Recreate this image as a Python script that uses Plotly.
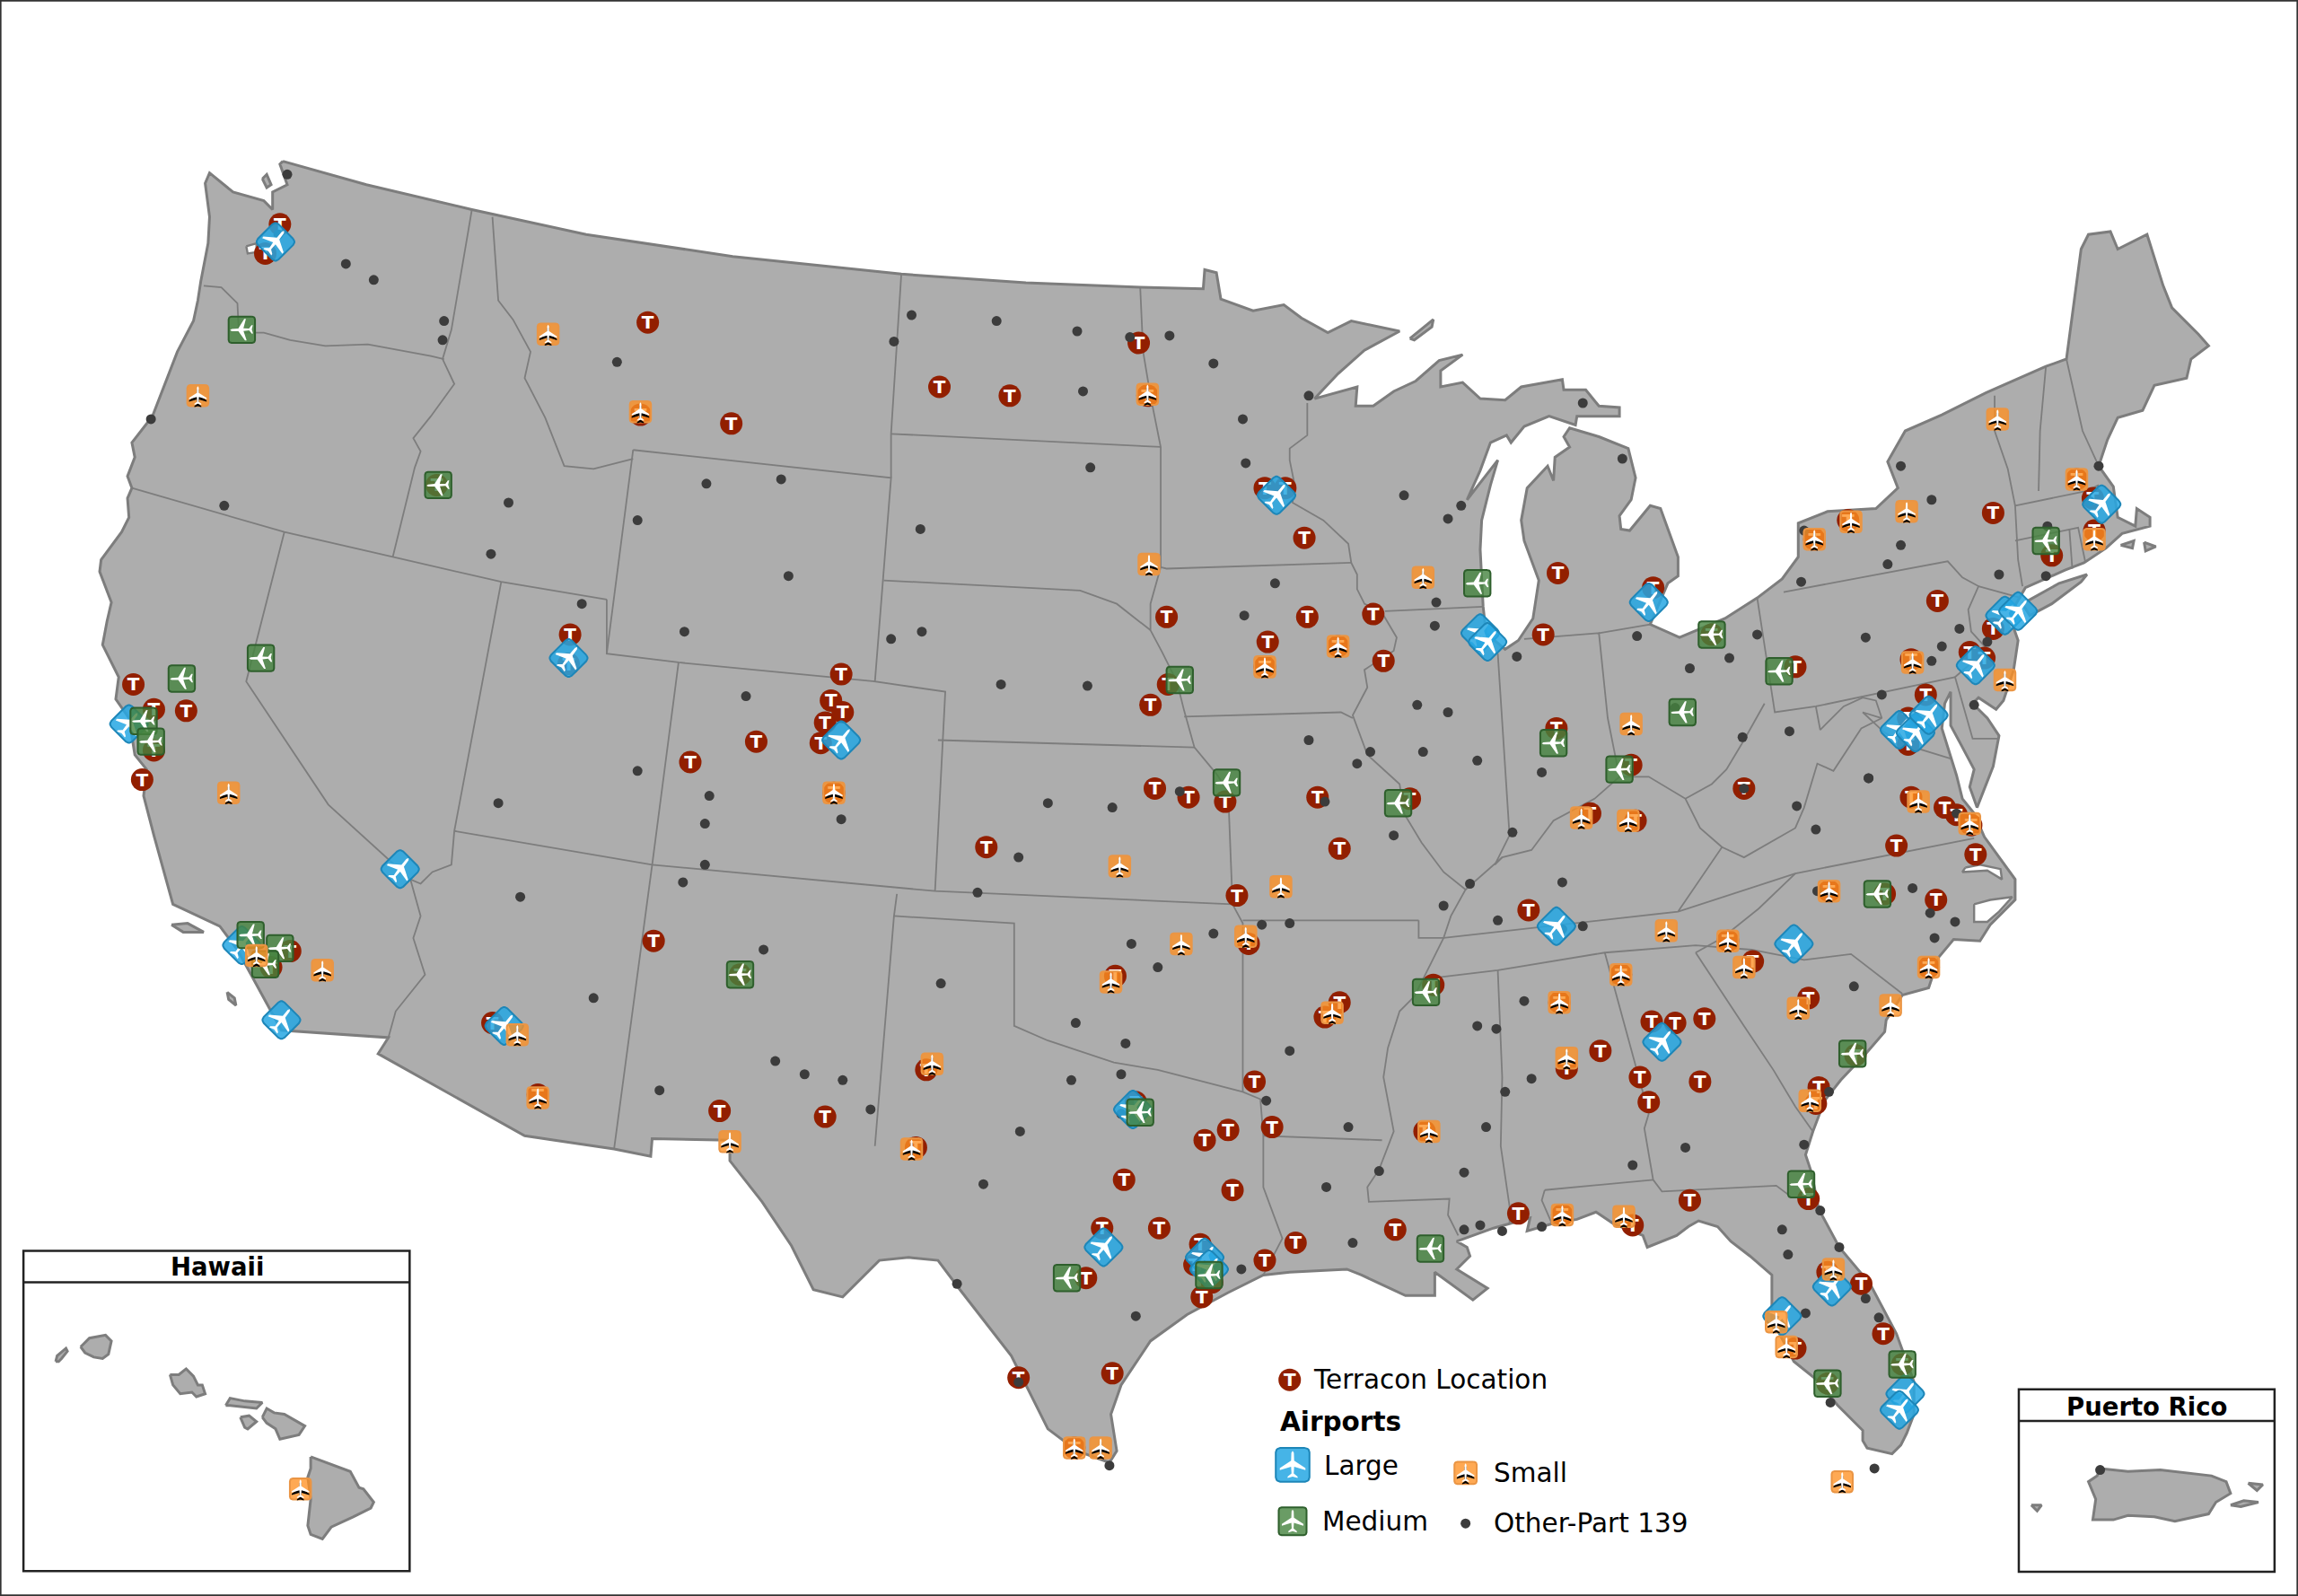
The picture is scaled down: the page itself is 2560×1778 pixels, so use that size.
import numpy as np
import plotly.graph_objects as go

# Map units: reference drawn on a 1568 x 1089 sheet, y pointing down
SHEET_W = 1568
SHEET_H = 1089

# Lower 48 coastline / national border, clockwise from the WA-BC corner
outline = [
    (193, 110), (250, 126), (322, 143), (400, 160), (500, 175), (615, 187), (700, 193), (778, 196), (821, 197),
    (822, 184), (830, 186), (833, 204), (855, 212), (876, 208), (888, 217), (906, 227), (922, 219), (941, 223),
    (955, 226), (931, 239), (913, 255), (897, 272), (926, 264), (925, 277), (937, 277), (951, 267), (966, 260),
    (982, 246), (998, 242), (983, 253), (983, 264), (998, 261), (1010, 272), (1027, 273), (1038, 264), (1066, 259),
    (1067, 266), (1082, 266), (1091, 277), (1105, 278), (1105, 284), (1076, 284), (1075, 290), (1057, 284),
    (1040, 291), (1031, 302), (1028, 297), (1017, 302), (1010, 321), (1001, 341), (1022, 314), (1017, 331),
    (1011, 355), (1010, 375), (1012, 414), (1014, 432), (1027, 443), (1036, 437), (1046, 422), (1050, 396),
    (1040, 369), (1038, 355), (1042, 333), (1056, 318), (1060, 328), (1061, 312), (1071, 305), (1067, 298),
    (1071, 292), (1091, 298), (1111, 306), (1116, 326), (1113, 341), (1105, 352), (1106, 361), (1112, 362),
    (1126, 345), (1133, 347), (1145, 380), (1145, 393), (1138, 398), (1126, 426), (1146, 435), (1177, 422),
    (1199, 408), (1216, 395), (1227, 380), (1227, 357), (1247, 349), (1280, 347), (1295, 333), (1288, 315),
    (1300, 294), (1325, 283), (1355, 268), (1396, 250), (1410, 245), (1420, 170), (1425, 160), (1440, 158),
    (1445, 170), (1465, 160), (1476, 195), (1482, 210), (1500, 228), (1507, 236), (1495, 245), (1492, 258),
    (1470, 263), (1462, 280), (1445, 285), (1438, 300), (1432, 318), (1442, 332), (1445, 353), (1457, 359),
    (1458, 347), (1467, 353), (1467, 359), (1448, 364), (1437, 374), (1422, 384), (1409, 389), (1382, 401),
    (1377, 410), (1371, 420), (1377, 437), (1374, 457), (1367, 478), (1362, 484), (1350, 476), (1346, 480),
    (1356, 490), (1364, 502), (1360, 523), (1349, 551), (1344, 537), (1347, 525), (1338, 508), (1331, 495),
    (1331, 472), (1327, 480), (1325, 497), (1329, 510), (1335, 529), (1339, 545), (1347, 555), (1354, 571),
    (1375, 600), (1375, 614), (1358, 631), (1351, 642), (1333, 641), (1323, 653), (1316, 674), (1298, 679),
    (1287, 696), (1286, 704), (1273, 719), (1256, 737), (1245, 751), (1237, 772), (1232, 788), (1236, 800),
    (1241, 825), (1255, 851), (1276, 876), (1294, 910), (1306, 943), (1306, 965), (1301, 978), (1297, 986),
    (1291, 992), (1274, 988), (1271, 983), (1271, 976), (1254, 959), (1239, 941), (1224, 929), (1209, 900),
    (1209, 870), (1194, 857), (1181, 847), (1172, 837), (1159, 833), (1152, 837), (1144, 843), (1124, 851),
    (1121, 843), (1101, 835), (1089, 827), (1076, 832), (1059, 835), (1042, 840), (1044, 831), (1019, 838),
    (994, 847), (1001, 851), (1003, 857), (994, 866), (1015, 879), (1005, 887), (979, 868), (979, 884),
    (959, 884), (944, 877), (929, 870), (919, 866), (880, 868), (862, 870), (838, 882), (810, 897), (785, 915),
    (765, 945), (758, 965), (762, 990), (757, 998), (735, 990), (715, 975), (700, 945), (690, 925), (655, 880),
    (640, 860), (620, 858), (600, 860), (575, 885), (555, 880), (540, 850), (520, 820), (498, 792), (498, 778),
    (445, 777), (444, 789), (419, 784), (358, 775), (258, 719), (265, 708), (192, 703), (175, 672), (162, 648),
    (150, 632), (118, 617), (105, 570), (98, 543), (100, 525), (92, 515), (88, 490), (79, 477), (81, 462),
    (70, 440), (73, 424), (76, 411), (68, 390), (69, 382), (83, 363), (88, 353), (87, 340), (90, 333), (87, 325),
    (92, 312), (90, 302), (104, 284), (121, 240), (132, 219), (135, 205), (137, 192), (142, 166), (143, 148),
    (140, 125), (143, 118), (159, 131), (180, 137), (186, 143), (186, 131), (196, 126), (191, 112),
]

long_island = [(1380, 412), (1405, 398), (1424, 392), (1420, 397), (1400, 412), (1385, 420)]
isle_royale = [(962, 231), (978, 218), (977, 223), (965, 232)]
san_juan = [(179, 122), (182, 119), (185, 126), (182, 128)]
channel_islands = [(117, 631), (128, 630), (139, 636), (125, 636)]
catalina = [(155, 677), (160, 681), (161, 686), (156, 682)]
vineyard = [(1447, 372), (1456, 369), (1455, 374)]
nantucket = [(1463, 370), (1471, 373), (1464, 376)]

# Water cut out of the land
puget_sound = [(168, 168), (175, 166), (175, 172), (169, 173)]
albemarle_sound = [(1341, 592), (1351, 590), (1365, 593), (1366, 600), (1356, 594), (1339, 595)]
pamlico_sound = [(1347, 617), (1358, 614), (1373, 612), (1364, 622), (1356, 629), (1347, 629), (1347, 623)]

# State lines
state_lines = [
    [(139, 195), (151, 196), (162, 207), (163, 227), (180, 227), (198, 232), (222, 236), (251, 235), (294, 243), (303, 245)],
    [(322, 143), (308, 225), (302, 245), (310, 262), (294, 284), (282, 299), (287, 308), (283, 319), (268, 380)],
    [(90, 333), (194, 363), (268, 380), (342, 397), (414, 409)],
    [(194, 363), (168, 465), (224, 549), (280, 600), (287, 625), (282, 640), (290, 665), (270, 690), (265, 708)],
    [(342, 397), (310, 567), (308, 590), (295, 595), (287, 603), (280, 600)],
    [(310, 567), (445, 590), (638, 608), (841, 617)],
    [(336, 148), (340, 205), (350, 218), (362, 240), (358, 258), (372, 285), (385, 318), (405, 320), (432, 313)],
    [(432, 307), (608, 326), (597, 465), (645, 472), (638, 608)],
    [(432, 307), (414, 446), (463, 452), (597, 465)],
    [(414, 409), (414, 446)],
    [(463, 452), (445, 590), (419, 784)],
    [(615, 187), (608, 296), (608, 326)],
    [(608, 296), (792, 305)],
    [(778, 196), (780, 240), (785, 270), (792, 305), (792, 387), (796, 388), (922, 384)],
    [(603, 396), (737, 403), (762, 412), (785, 430)],
    [(792, 387), (785, 412), (785, 430), (793, 445), (803, 465), (808, 485), (815, 510), (830, 528), (838, 540), (841, 617), (848, 630), (848, 745)],
    [(640, 505), (815, 510)],
    [(808, 489), (915, 486), (923, 490)],
    [(892, 275), (892, 297), (880, 306), (880, 314), (883, 329), (882, 343), (903, 355), (920, 371), (922, 384), (926, 392), (926, 402), (931, 412), (943, 418), (953, 435), (951, 444), (931, 457), (933, 469), (923, 488), (933, 515), (955, 535), (958, 555), (970, 575), (985, 595), (1000, 607), (990, 625), (985, 640), (975, 660), (965, 680), (955, 690), (947, 715), (944, 735), (951, 772), (941, 798), (933, 810), (934, 820), (989, 818), (988, 829), (995, 843)],
    [(945, 417), (1012, 414)],
    [(1091, 432), (1126, 426)],
    [(1040, 436), (1091, 432), (1097, 490), (1105, 530)],
    [(1022, 446), (1025, 490), (1030, 570), (1020, 590), (1025, 585)],
    [(1204, 480), (1190, 505), (1178, 525), (1168, 535), (1150, 545), (1125, 530), (1105, 530), (1088, 545), (1060, 560), (1045, 580), (1025, 585), (1000, 607)],
    [(1199, 408), (1211, 486), (1239, 482), (1334, 462), (1346, 504), (1364, 504)],
    [(1217, 404), (1329, 383), (1339, 394), (1350, 400), (1343, 416), (1345, 431), (1356, 443), (1334, 462)],
    [(1350, 400), (1379, 408)],
    [(1239, 482), (1242, 498), (1258, 482), (1271, 476), (1280, 478), (1284, 490), (1271, 486), (1286, 500), (1306, 510), (1332, 518)],
    [(1150, 545), (1160, 565), (1175, 578), (1145, 622)],
    [(1175, 578), (1190, 585), (1225, 565), (1231, 551), (1240, 521), (1251, 526), (1270, 497), (1284, 490)],
    [(985, 640), (1145, 622), (1225, 596), (1347, 572)],
    [(1225, 596), (1200, 620), (1175, 640), (1157, 650)],
    [(972, 668), (1022, 662), (1095, 650), (1157, 645), (1195, 648), (1231, 655), (1263, 651), (1298, 678)],
    [(1157, 650), (1170, 670), (1190, 700), (1210, 730), (1225, 755), (1237, 772)],
    [(1022, 662), (1025, 735), (1024, 782), (1030, 823), (1030, 835)],
    [(1095, 650), (1125, 760), (1122, 770), (1125, 788), (1128, 805), (1134, 813), (1212, 809), (1220, 815)],
    [(1054, 812), (1128, 805)],
    [(1054, 812), (1052, 819), (1059, 835)],
    [(968, 628), (848, 628)],
    [(968, 628), (968, 640), (985, 640)],
    [(612, 610), (610, 625), (597, 782)],
    [(610, 625), (692, 630), (692, 700), (715, 710), (760, 725), (790, 730), (848, 745), (860, 750), (862, 775), (862, 810), (875, 845), (862, 870)],
    [(862, 775), (943, 778)],
    [(1361, 270), (1361, 294), (1370, 320), (1375, 345), (1377, 382), (1380, 400)],
    [(1396, 250), (1392, 294), (1391, 335)],
    [(1410, 245), (1421, 294), (1432, 318)],
    [(1375, 345), (1424, 335), (1432, 331)],
    [(1375, 369), (1418, 360), (1423, 384)],
    [(1412, 361), (1414, 388)],
]

# Inset land
hawaii_islands = [
    [(38, 929), (39, 925), (45, 920), (46, 922), (42, 927), (40, 929)],
    [(55, 919), (61, 913), (72, 911), (76, 915), (74, 924), (70, 927), (64, 926), (58, 923)],
    [(116, 938), (122, 938), (127, 934), (132, 939), (135, 945), (138, 945), (140, 951), (134, 953), (131, 950), (123, 951), (118, 945)],
    [(154, 959), (157, 954), (167, 956), (179, 957), (175, 961), (167, 960), (157, 959)],
    [(164, 967), (170, 966), (175, 970), (169, 975), (167, 974)],
    [(179, 967), (182, 961), (187, 964), (194, 965), (208, 973), (204, 979), (191, 982), (188, 975), (182, 971)],
    [(212, 994), (239, 1004), (245, 1015), (248, 1016), (255, 1025), (253, 1029), (241, 1035), (226, 1042), (220, 1050), (212, 1047), (210, 1041), (212, 1023), (210, 1008), (212, 1002)],
]
puerto_rico_islands = [
    [(1433, 1002), (1452, 1004), (1474, 1003), (1493, 1005), (1509, 1007), (1519, 1011), (1522, 1019), (1512, 1025), (1507, 1033), (1484, 1038), (1470, 1035), (1452, 1034), (1442, 1037), (1428, 1037), (1430, 1023), (1425, 1011), (1431, 1007)],
    [(1522, 1027), (1531, 1024), (1541, 1025), (1529, 1028)],
    [(1534, 1012), (1544, 1013), (1540, 1017)],
    [(1386, 1027), (1393, 1027), (1390, 1031)],
]

# Sites
terracon = [
    (191, 153), (181, 173), (91, 467), (105, 484), (127, 485), (105, 512), (97, 532), (198, 649), (185, 660),
    (336, 698), (367, 747), (298, 331), (442, 220), (437, 283), (499, 289), (389, 433), (388, 453), (471, 520),
    (574, 460), (567, 478), (563, 493), (575, 486), (560, 507), (516, 506), (569, 541), (446, 642), (505, 665),
    (641, 264), (689, 270), (777, 234), (783, 270), (863, 333), (877, 333), (890, 367), (796, 421), (865, 438),
    (892, 421), (937, 419), (944, 451), (913, 441), (863, 455), (797, 467), (785, 481), (788, 538), (811, 544),
    (836, 547), (673, 578), (899, 544), (914, 579), (962, 545), (844, 611), (761, 666), (852, 644), (914, 684),
    (904, 694), (856, 738), (868, 769), (838, 771), (822, 778), (841, 812), (491, 758), (563, 762), (632, 730),
    (625, 783), (775, 752), (767, 805), (791, 838), (752, 838), (741, 872), (819, 849), (815, 863), (820, 885),
    (827, 875), (863, 860), (884, 848), (695, 940), (759, 937), (733, 988), (952, 839), (1036, 828), (1066, 829),
    (1114, 836), (1153, 819), (1125, 752), (1160, 738), (1119, 735), (1241, 742), (1239, 753), (1234, 818),
    (972, 772), (1247, 868), (1270, 876), (1225, 920), (1285, 910), (1298, 931), (1247, 944), (1127, 697),
    (1143, 698), (1163, 695), (1069, 729), (1092, 717), (1064, 684), (978, 672), (1106, 665), (1043, 621),
    (1179, 642), (1196, 656), (1234, 681), (1294, 577), (1321, 614), (1348, 583), (1304, 544), (1327, 551),
    (1335, 556), (1345, 563), (1248, 608), (1286, 610), (1316, 660), (1266, 720), (1417, 327), (1428, 340),
    (1400, 379), (1429, 362), (1360, 350), (1261, 355), (1238, 368), (1322, 410), (1360, 429), (1344, 445),
    (1354, 449), (1304, 450), (1314, 474), (1302, 490), (1302, 508), (1225, 455), (1168, 433), (1190, 538),
    (1113, 522), (1062, 497), (1085, 555), (1116, 560), (1128, 401), (1063, 391), (1053, 433),
]

other_part_139 = [
    (196, 119), (236, 180), (255, 191), (303, 219), (302, 232), (190, 160), (103, 286), (153, 345), (347, 343),
    (335, 378), (421, 247), (435, 355), (482, 330), (533, 327), (467, 431), (397, 412), (538, 393), (509, 475),
    (435, 526), (340, 548), (481, 562), (484, 543), (481, 590), (466, 602), (355, 612), (405, 681), (529, 724),
    (450, 744), (575, 737), (521, 648), (608, 436), (629, 431), (622, 215), (680, 219), (735, 226), (771, 230),
    (798, 229), (828, 248), (610, 233), (739, 267), (848, 286), (893, 270), (958, 338), (988, 354), (997, 345),
    (744, 319), (628, 361), (850, 316), (683, 467), (742, 468), (574, 559), (715, 548), (759, 551), (805, 540),
    (695, 585), (667, 609), (893, 505), (926, 521), (904, 547), (967, 481), (988, 486), (935, 513), (971, 513),
    (1008, 519), (1052, 527), (951, 570), (985, 618), (1003, 603), (1032, 568), (1066, 602), (1022, 628),
    (1080, 632), (1066, 634), (1040, 683), (1008, 700), (1021, 702), (1045, 736), (1027, 745), (1014, 769),
    (941, 799), (999, 800), (999, 839), (1010, 836), (1025, 840), (1052, 837), (923, 848), (905, 810), (920, 769),
    (880, 630), (861, 631), (828, 637), (790, 660), (772, 644), (734, 698), (768, 712), (765, 733), (642, 671),
    (731, 737), (696, 772), (671, 808), (594, 757), (549, 733), (653, 876), (695, 943), (775, 898), (757, 1000),
    (847, 866), (864, 751), (880, 717), (765, 760), (1114, 795), (1150, 783), (1231, 781), (1242, 826), (1216, 839),
    (1220, 856), (1255, 851), (1273, 886), (1282, 899), (1232, 896), (1249, 957), (1279, 1002), (1275, 531),
    (1226, 550), (1239, 566), (1240, 608), (1305, 606), (1317, 623), (1334, 629), (1320, 640), (1265, 673),
    (1248, 745), (1335, 555), (1297, 318), (1318, 341), (1297, 372), (1288, 385), (1229, 397), (1231, 362),
    (1364, 392), (1396, 393), (1397, 359), (1432, 318), (1426, 342), (1199, 433), (1180, 449), (1273, 435),
    (1337, 429), (1325, 441), (1318, 451), (1356, 438), (1284, 474), (1347, 481), (1221, 499), (1189, 503),
    (1275, 531), (1190, 538), (1370, 414), (870, 398), (849, 420), (980, 411), (979, 427), (1035, 448), (1080, 275),
    (1107, 313), (1117, 434), (1153, 456), (1143, 483), (1433, 1003),
]

large_airports = [
    (188, 165), (88, 494), (388, 449), (574, 505), (273, 593), (165, 645), (192, 696), (344, 700), (773, 757),
    (753, 851), (822, 858), (825, 866), (1062, 632), (1134, 711), (1224, 644), (1250, 878), (1216, 898), (1300, 951),
    (1296, 962), (1348, 454), (1368, 420), (1377, 417), (1434, 344), (1125, 411), (1010, 432), (1015, 438), (871, 338),
    (1296, 498), (1307, 500), (1316, 488),
]

medium_airports = [
    (165, 225), (299, 331), (178, 449), (124, 463), (98, 492), (103, 506), (171, 638), (191, 647), (181, 658),
    (505, 665), (778, 759), (728, 872), (825, 870), (805, 464), (837, 534), (954, 548), (973, 677), (976, 852),
    (1060, 507), (1105, 525), (1148, 486), (1168, 433), (1008, 398), (1214, 458), (1396, 369), (1281, 610),
    (1264, 719), (1229, 808), (1247, 944), (1298, 931),
]

small_airports = [
    (374, 228), (135, 270), (437, 281), (156, 541), (220, 662), (175, 652), (353, 706), (367, 749), (569, 541),
    (498, 779), (636, 726), (622, 784), (764, 591), (874, 605), (806, 644), (850, 639), (758, 670), (909, 691),
    (783, 269), (784, 385), (863, 455), (913, 441), (971, 394), (1064, 684), (1069, 722), (1106, 665), (1137, 635),
    (1179, 642), (1190, 660), (1079, 558), (1111, 560), (1113, 494), (975, 772), (1066, 829), (1108, 830), (733, 988),
    (751, 988), (1248, 608), (1309, 547), (1344, 562), (1316, 660), (1290, 686), (1227, 688), (1235, 751), (1251, 866),
    (1212, 902), (1219, 919), (1257, 1011), (1368, 464), (1305, 452), (1363, 286), (1417, 327), (1429, 368), (1301, 349),
    (1263, 356), (1238, 368), (205, 1016),
]

LAND = "#adadad"
BORDER = "#7d7d7d"
T_RED = "#921f00"
DOT = "#3c3c3c"
FONT = "DejaVu Sans"

# white plane pointing up, half outline (x, y) in unit lengths
plane_half = [
    (0, -1), (0.09, -0.86), (0.11, -0.3), (0.92, 0.24), (0.92, 0.38), (0.11, 0.14), (0.08, 0.62),
    (0.36, 0.84), (0.36, 0.95), (0, 0.85),
]


def rotate(xs, ys, degrees):
    a = np.radians(degrees)
    return xs * np.cos(a) - ys * np.sin(a), xs * np.sin(a) + ys * np.cos(a)


def plane_shape(cx, cy, length, degrees):
    px = np.array([p[0] for p in plane_half] + [-p[0] for p in plane_half[::-1]]) * length
    py = np.array([p[1] for p in plane_half] + [p[1] for p in plane_half[::-1]]) * length
    rx, ry = rotate(px, py, degrees)
    return cx + rx, cy + ry


def rounded_square(cx, cy, half, radius, degrees=0):
    xs, ys = [], []
    corners = [(1, -1, -90), (1, 1, 0), (-1, 1, 90), (-1, -1, 180)]
    for sx, sy, start in corners:
        t = np.radians(np.linspace(start, start + 90, 6))
        xs.extend(sx * (half - radius) + radius * np.cos(t))
        ys.extend(sy * (half - radius) + radius * np.sin(t))
    xs.append(xs[0])
    ys.append(ys[0])
    rx, ry = rotate(np.array(xs), np.array(ys), degrees)
    return cx + rx, cy + ry


def polygon_trace(x, y, fill, line_color=None, line_width=0):
    return go.Scatter(x=x, y=y, mode="lines", fill="toself", fillcolor=fill,
                      line=dict(color=line_color or fill, width=line_width),
                      hoverinfo="skip", showlegend=False)


def join_rings(rings):
    x, y = [], []
    for ring in rings:
        x += [p[0] for p in ring] + [ring[0][0], None]
        y += [p[1] for p in ring] + [ring[0][1], None]
    return x, y


def airport_traces(cx, cy, kind, legend=False):
    style = airport_styles[kind]
    angle = 0 if legend else style["angle"]
    box_angle = 0 if legend else style["box_angle"]
    half = style["legend_half"] if legend else style["half"]
    bx, by = rounded_square(cx, cy, half, style["radius"], box_angle)
    traces = [polygon_trace(bx, by, style["fill"], style["edge"], 2)]
    if kind == "small":
        sx, sy = plane_shape(cx, cy + 1.6, style["plane"], angle)
        traces.append(polygon_trace(sx, sy, "#000000"))
    px, py = plane_shape(cx, cy, style["plane"], angle)
    traces.append(polygon_trace(px, py, "#ffffff"))
    return traces


airport_styles = {
    "large": dict(half=10, legend_half=11.5, radius=3, box_angle=45, angle=38, plane=9.5,
                  fill="rgba(38,167,227,0.85)", edge="#1d86b8"),
    "medium": dict(half=9, legend_half=9.5, radius=2, box_angle=0, angle=-92, plane=8,
                   fill="rgba(69,131,62,0.8)", edge="#2e5f2c"),
    "small": dict(half=7.2, legend_half=7.6, radius=2, box_angle=0, angle=0, plane=6.5,
                  fill="rgba(255,145,35,0.78)", edge="#ea9544"),
}

fig = go.Figure()

# land
land_x, land_y = join_rings([outline, long_island, isle_royale, san_juan, channel_islands, catalina, vineyard, nantucket]
                            + hawaii_islands + puerto_rico_islands)
fig.add_trace(polygon_trace(land_x, land_y, LAND, BORDER, 3))
water_x, water_y = join_rings([puget_sound, albemarle_sound, pamlico_sound])
fig.add_trace(polygon_trace(water_x, water_y, "white", BORDER, 2.4))

# state lines
for line in state_lines:
    fig.add_trace(go.Scatter(x=[p[0] for p in line], y=[p[1] for p in line], mode="lines",
                             line=dict(color=BORDER, width=1.8), hoverinfo="skip", showlegend=False))

# sites, legend key added at the end of each list
t_x = [p[0] for p in terracon] + [880]
t_y = [p[1] for p in terracon] + [941.5]
fig.add_trace(go.Scatter(x=t_x, y=t_y, mode="markers",
                         marker=dict(size=25, color=T_RED), hoverinfo="skip", showlegend=False))
# the text box includes the descender, so nudge the letter down to sit in the middle of the disc
fig.add_trace(go.Scatter(x=t_x, y=[v + 1.2 for v in t_y], mode="text", text=["<b>T</b>"] * len(t_x),
                         textposition="middle center", textfont=dict(family=FONT, size=20, color="white"),
                         hoverinfo="skip", showlegend=False))
fig.add_trace(go.Scatter(x=[p[0] for p in other_part_139] + [1000], y=[p[1] for p in other_part_139] + [1039.5],
                         mode="markers", marker=dict(size=11, color=DOT), hoverinfo="skip", showlegend=False))

for p in large_airports:
    fig.add_traces(airport_traces(p[0], p[1], "large"))
for p in medium_airports:
    fig.add_traces(airport_traces(p[0], p[1], "medium"))
for p in small_airports:
    fig.add_traces(airport_traces(p[0], p[1], "small"))

# hand-placed legend keys
fig.add_traces(airport_traces(882, 999.5, "large", legend=True))
fig.add_traces(airport_traces(882, 1038, "medium", legend=True))
fig.add_traces(airport_traces(1000, 1005, "small", legend=True))

legend_labels = [
    ("Terracon Location", 895, 941.5, False),
    ("Airports", 872, 970, True),
    ("Large", 902, 1000, False),
    ("Medium", 901, 1038, False),
    ("Small", 1018, 1005, False),
    ("Other-Part 139", 1018, 1039.5, False),
]
annotations = []
for label, x, y, bold in legend_labels:
    annotations.append(dict(x=x, y=y, text=f"<b>{label}</b>" if bold else label, showarrow=False, xanchor="left",
                            yanchor="middle", font=dict(family=FONT, size=29.5, color="#000000")))
for label, x, y in [("Hawaii", 148, 864.5), ("Puerto Rico", 1464.5, 959.5)]:
    annotations.append(dict(x=x, y=y, text=f"<b>{label}</b>", showarrow=False, xanchor="center",
                            yanchor="middle", font=dict(family=FONT, size=27.5, color="#000000")))

# inset frames and sheet border
frame = dict(color="#222222", width=2.5)
shapes = [
    dict(type="rect", x0=16, y0=853.5, x1=279.5, y1=1072, line=frame),
    dict(type="line", x0=16, y0=875, x1=279.5, y1=875, line=frame),
    dict(type="rect", x0=1377.5, y0=948, x1=1552, y1=1072.5, line=frame),
    dict(type="line", x0=1377.5, y0=969.5, x1=1552, y1=969.5, line=frame),
    dict(type="rect", x0=0.4, y0=0.4, x1=SHEET_W - 0.4, y1=SHEET_H - 0.4, line=dict(color="#333333", width=2)),
]

fig.update_layout(
    width=2560, height=1778,
    margin=dict(l=0, r=0, t=0, b=0),
    paper_bgcolor="white", plot_bgcolor="white",
    showlegend=False,
    annotations=annotations,
    shapes=shapes,
    xaxis=dict(range=[0, SHEET_W], visible=False, fixedrange=True),
    yaxis=dict(range=[SHEET_H, 0], visible=False, fixedrange=True),
)

# the page's default body margin would push the sheet 8px off the window corner
fig.write_html("out.html", config=dict(displayModeBar=False),
               post_script="document.body.style.margin = '0';")
